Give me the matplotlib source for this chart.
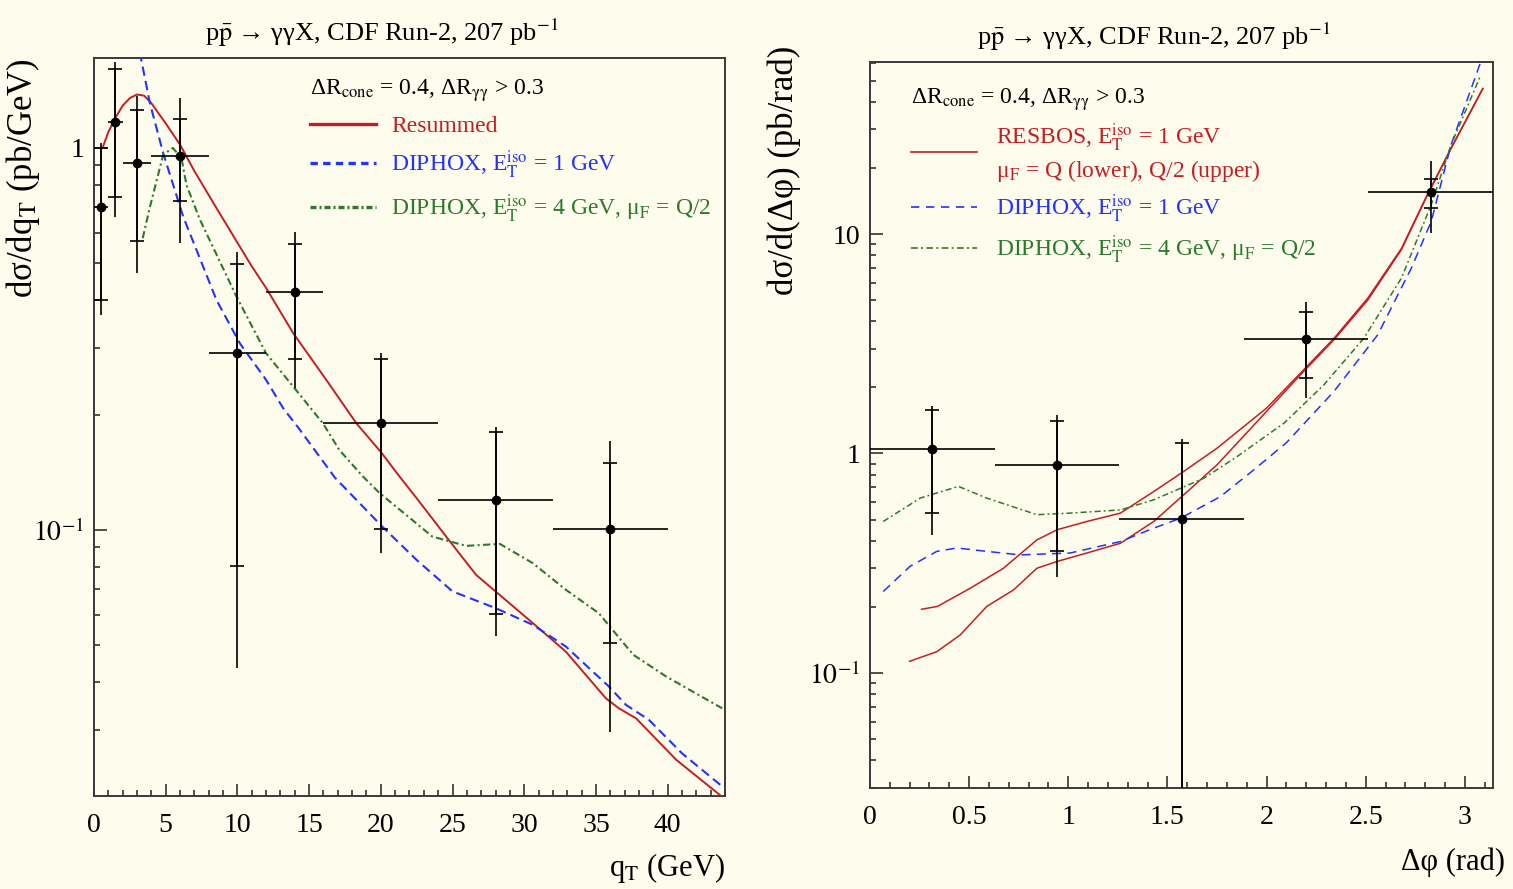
import numpy as np
import matplotlib
matplotlib.use("Agg")
import matplotlib.pyplot as plt
from matplotlib.lines import Line2D
from matplotlib.ticker import MultipleLocator, LogLocator, FuncFormatter, NullFormatter

plt.rcParams['font.family'] = ['Liberation Serif', 'DejaVu Serif']
plt.rcParams['mathtext.fontset'] = 'stix'

# ---------- left panel: q_T ----------
qt_x = [0.5, 1.5, 3, 6, 10, 14, 20, 28, 36]
qt_edge_lo = [0, 1, 2, 4, 8, 12, 16, 24, 32]
qt_edge_hi = [1, 2, 4, 8, 12, 16, 24, 32, 40]
qt_y = [0.70, 1.17, 0.914, 0.955, 0.29, 0.419, 0.190, 0.120, 0.1004]
qt_stat_lo = [0.40, 0.746, 0.569, 0.724, 0.0805, 0.28, 0.1004, 0.0602, 0.0505]
qt_stat_hi = [1.0, 1.61, 1.26, 1.19, 0.497, 0.56, 0.28, 0.18, 0.1495]
qt_tot_lo = [0.365, 0.66, 0.47, 0.563, 0.0435, 0.235, 0.0872, 0.0528, 0.0295]
qt_tot_hi = [1.03, 1.68, 1.37, 1.35, 0.535, 0.604, 0.291, 0.186, 0.171]

res_x = [0.6, 1.0, 1.5, 2.0, 2.5, 3.0, 3.5, 4.0, 5.0, 6.0, 7.0, 8.5, 10.0, 11.0, 12.0,
         13.9, 16.2, 18.3, 20.0, 21.3, 22.5, 25.0, 26.65, 28.0, 30.6, 32.9, 35.7,
         36.6, 37.8, 40.6, 43.8]
res_y = [1.0, 1.1, 1.2, 1.29, 1.35, 1.38, 1.37, 1.31, 1.16, 1.02, 0.87, 0.70, 0.565,
         0.49, 0.43, 0.327, 0.247, 0.19, 0.16, 0.138, 0.121, 0.0914, 0.0762, 0.069,
         0.057, 0.048, 0.0362, 0.0341, 0.0321, 0.025, 0.020]

dip1_x = [3.2, 3.3, 3.9, 4.83, 6.22, 8.54, 10.17, 12.0, 13.2, 14.35, 16.8, 20.1, 22.5,
          25.0, 28.0, 30.6, 32.9, 35.9, 37.1, 38.7, 41.0, 43.8]
dip1_y = [1.78, 1.70, 1.31, 0.968, 0.661, 0.40, 0.308, 0.247, 0.208, 0.183, 0.137,
          0.102, 0.0834, 0.069, 0.0624, 0.0564, 0.0495, 0.0389, 0.0348, 0.0318, 0.026,
          0.0213]

dip4_x = [3.4, 3.9, 4.83, 5.5, 6.1, 6.45, 7.38, 8.3, 9.94, 12.0, 13.9, 15.97, 17.1,
          18.75, 19.9, 23.6, 25.95, 28.3, 30.6, 32.9, 35.2, 37.6, 39.9, 43.8]
dip4_y = [0.58, 0.70, 0.96, 1.0, 0.94, 0.80, 0.65, 0.55, 0.408, 0.29, 0.237, 0.19,
          0.162, 0.138, 0.125, 0.096, 0.0908, 0.0919, 0.0818, 0.0697, 0.0605, 0.0471,
          0.0413, 0.0341]

# ---------- right panel: delta phi ----------
dp_x = [0.314, 0.942, 1.571, 2.199, 2.827]
dp_edge_lo = [0.0, 0.628, 1.257, 1.885, 2.513]
dp_edge_hi = [0.628, 1.257, 1.885, 2.513, 3.1416]
dp_y = [1.05, 0.882, 0.504, 3.33, 15.6]
dp_stat_lo = [0.535, 0.358, 0.02, 2.20, 13.1]
dp_stat_hi = [1.57, 1.40, 1.12, 4.40, 17.9]
dp_tot_lo = [0.426, 0.275, 0.01, 1.79, 10.1]
dp_tot_hi = [1.64, 1.50, 1.17, 4.92, 21.4]

rb_up_x = [0.26, 0.34, 0.505, 0.673, 0.842, 0.943, 1.094, 1.263, 1.431, 1.582, 1.75,
           2.0, 2.17, 2.34, 2.51, 2.68, 2.81, 2.93, 3.09]
rb_up_y = [0.195, 0.201, 0.243, 0.30, 0.404, 0.449, 0.49, 0.535, 0.671, 0.828, 1.057,
           1.61, 2.32, 3.35, 5.1, 8.6, 15.1, 24.6, 46]

rb_lo_x = [0.20, 0.337, 0.455, 0.589, 0.724, 0.842, 0.943, 1.094, 1.263, 1.431, 1.582,
           1.75, 1.92, 2.17, 2.34, 2.51, 2.68, 2.81, 2.93, 3.09]
rb_lo_y = [0.113, 0.125, 0.149, 0.201, 0.239, 0.30, 0.322, 0.352, 0.39, 0.49, 0.648,
           0.888, 1.30, 2.28, 3.3, 5.0, 8.5, 15.0, 24.5, 46]

dpd1_x = [0.067, 0.202, 0.337, 0.438, 0.589, 0.758, 1.01, 1.263, 1.431, 1.566, 1.768,
          1.936, 2.1, 2.34, 2.56, 2.73, 2.83, 2.93, 3.08]
dpd1_y = [0.235, 0.306, 0.358, 0.371, 0.358, 0.345, 0.352, 0.397, 0.457, 0.507, 0.637,
          0.843, 1.12, 1.92, 3.47, 7.0, 11.4, 25.5, 61]

dpd4_x = [0.067, 0.253, 0.446, 0.589, 0.842, 1.01, 1.263, 1.431, 1.684, 1.852, 2.09,
          2.29, 2.49, 2.68, 2.83, 2.93, 3.08]
dpd4_y = [0.49, 0.626, 0.708, 0.626, 0.526, 0.535, 0.553, 0.615, 0.772, 0.969, 1.38,
          2.06, 3.35, 6.3, 13.6, 25.5, 53]

bg = '#fefcec'
red = '#c41e24'
blue = '#2233ff'
green = '#2b7a2b'
title = r'p$\bar{\mathrm{p}}$ → γγX, CDF Run-2, 207 pb$^{-1}$'
header = r'ΔR$_\mathrm{cone}$ = 0.4, ΔR$_\mathrm{γγ}$ > 0.3'
lab_dip1 = r'DIPHOX, E$_\mathrm{T}^\mathrm{iso}$ = 1 GeV'
lab_dip4 = r'DIPHOX, E$_\mathrm{T}^\mathrm{iso}$ = 4 GeV, μ$_\mathrm{F}$ = Q/2'


def log_fmt(v, pos):
    if abs(v - 1) < 1e-9:
        return '1'
    if abs(v - 10) < 1e-9:
        return '10'
    e = int(round(np.log10(v)))
    return r'$10^{%d}$' % e


def style_axes(ax):
    ax.set_facecolor(bg)
    for s in ax.spines.values():
        s.set_color('#3a3a3a')
        s.set_linewidth(1.4)
    ax.set_yscale('log')
    ax.yaxis.set_major_locator(LogLocator(base=10))
    ax.yaxis.set_minor_locator(LogLocator(base=10, subs=np.arange(2, 10)))
    ax.yaxis.set_major_formatter(FuncFormatter(log_fmt))
    ax.yaxis.set_minor_formatter(NullFormatter())
    ax.tick_params(which='both', direction='in', top=False, right=False,
                   labelsize=20, color='#222222', width=1.1)
    ax.tick_params(which='major', length=9)
    ax.tick_params(which='minor', length=4.5)
    ax.tick_params(axis='x', pad=12)
    ax.tick_params(axis='y', pad=7)


def draw_points(ax, x, lo, hi, y, slo, shi, tlo, thi):
    x = np.array(x)
    y = np.array(y)
    xerr = [x - np.array(lo), np.array(hi) - x]
    yerr = [y - np.array(tlo), np.array(thi) - y]
    ax.errorbar(x, y, xerr=xerr, yerr=yerr, fmt='o', color='black', ms=6,
                elinewidth=1.2, capsize=0, zorder=5)
    serr = [y - np.array(slo), np.array(shi) - y]
    ax.errorbar(x, y, yerr=serr, fmt='none', ecolor='black', elinewidth=1.2,
                capsize=5, capthick=1.2, zorder=5)


fig = plt.figure(figsize=(15.13, 8.89), dpi=100, facecolor=bg)
ax1 = fig.add_axes([0.0621, 0.1046, 0.4171, 0.8302])
ax2 = fig.add_axes([0.5750, 0.1136, 0.4118, 0.8167])

# left panel
style_axes(ax1)
ax1.plot(res_x, res_y, color=red, lw=1.4, zorder=3)
ax1.plot(dip1_x, dip1_y, color=blue, lw=1.5, dashes=(4.5, 2.5), zorder=3)
ax1.plot(dip4_x, dip4_y, color=green, lw=1.5, dashes=(3.5, 1.6, 1.0, 1.6), zorder=3)
draw_points(ax1, qt_x, qt_edge_lo, qt_edge_hi, qt_y, qt_stat_lo, qt_stat_hi,
            qt_tot_lo, qt_tot_hi)
ax1.set_xlim(0, 44)
ax1.set_ylim(0.0201, 1.72)
ax1.xaxis.set_major_locator(MultipleLocator(5))
ax1.xaxis.set_minor_locator(MultipleLocator(1))
ax1.set_title(title, fontsize=19, x=0.456, pad=12)
ax1.set_xlabel(r'q$_\mathrm{T}$ (GeV)', fontsize=22, loc='right')
ax1.xaxis.set_label_coords(1.0, -0.074)
ax1.set_ylabel(r'dσ/dq$_\mathrm{T}$ (pb/GeV)', fontsize=25, loc='top')
ax1.yaxis.set_label_coords(-0.082, 1.0)

h1 = [Line2D([], [], color=red, lw=2.4),
      Line2D([], [], color=blue, lw=2.4, dashes=(2.2, 1.6)),
      Line2D([], [], color=green, lw=2.4, dashes=(1.8, 0.9, 0.6, 0.9))]
leg1 = ax1.legend(h1, ['Resummed', lab_dip1, lab_dip4], loc='upper left',
                  bbox_to_anchor=(0.312, 1.0), frameon=False, fontsize=17,
                  title=header, title_fontsize=17, alignment='left',
                  labelcolor=[red, blue, green], handlelength=2.8,
                  handletextpad=0.65, labelspacing=0.5, borderpad=0.3)

# right panel
style_axes(ax2)
ax2.plot(rb_lo_x, rb_lo_y, color=red, lw=1.1, zorder=3)
ax2.plot(rb_up_x, rb_up_y, color=red, lw=1.1, zorder=3)
ax2.plot(dpd1_x, dpd1_y, color=blue, lw=1.1, dashes=(6, 4), zorder=3)
ax2.plot(dpd4_x, dpd4_y, color=green, lw=1.1, dashes=(4, 2, 1.2, 2), zorder=3)
draw_points(ax2, dp_x, dp_edge_lo, dp_edge_hi, dp_y, dp_stat_lo, dp_stat_hi,
            dp_tot_lo, dp_tot_hi)
ax2.set_xlim(0, np.pi)
ax2.set_ylim(0.0299, 60.8)
ax2.xaxis.set_major_locator(MultipleLocator(0.5))
ax2.xaxis.set_minor_locator(MultipleLocator(0.1))
ax2.xaxis.set_major_formatter(FuncFormatter(lambda v, p: '%g' % round(v, 2)))
ax2.set_title(title, fontsize=19, x=0.456, pad=12)
ax2.set_xlabel('Δφ (rad)', fontsize=22, loc='right')
ax2.xaxis.set_label_coords(1.02, -0.082)
ax2.set_ylabel('dσ/d(Δφ) (pb/rad)', fontsize=25, loc='top')
ax2.yaxis.set_label_coords(-0.11, 1.023)

h2 = [Line2D([], [], color=red, lw=1.2),
      Line2D([], [], color=blue, lw=1.2, dashes=(5, 4)),
      Line2D([], [], color=green, lw=1.2, dashes=(4, 2, 1.2, 2))]
lab_rb = 'RESBOS, E$_\\mathrm{T}^\\mathrm{iso}$ = 1 GeV\nμ$_\\mathrm{F}$ = Q (lower), Q/2 (upper)'
leg2 = ax2.legend(h2, [lab_rb, lab_dip1, lab_dip4], loc='upper left',
                  bbox_to_anchor=(0.036, 0.993), frameon=False, fontsize=17,
                  title=header, title_fontsize=17, alignment='left',
                  labelcolor=[red, blue, green], handlelength=2.8,
                  handletextpad=0.8, labelspacing=0.38, borderpad=0.3)

fig.savefig('out.png', dpi=100, facecolor=bg)
